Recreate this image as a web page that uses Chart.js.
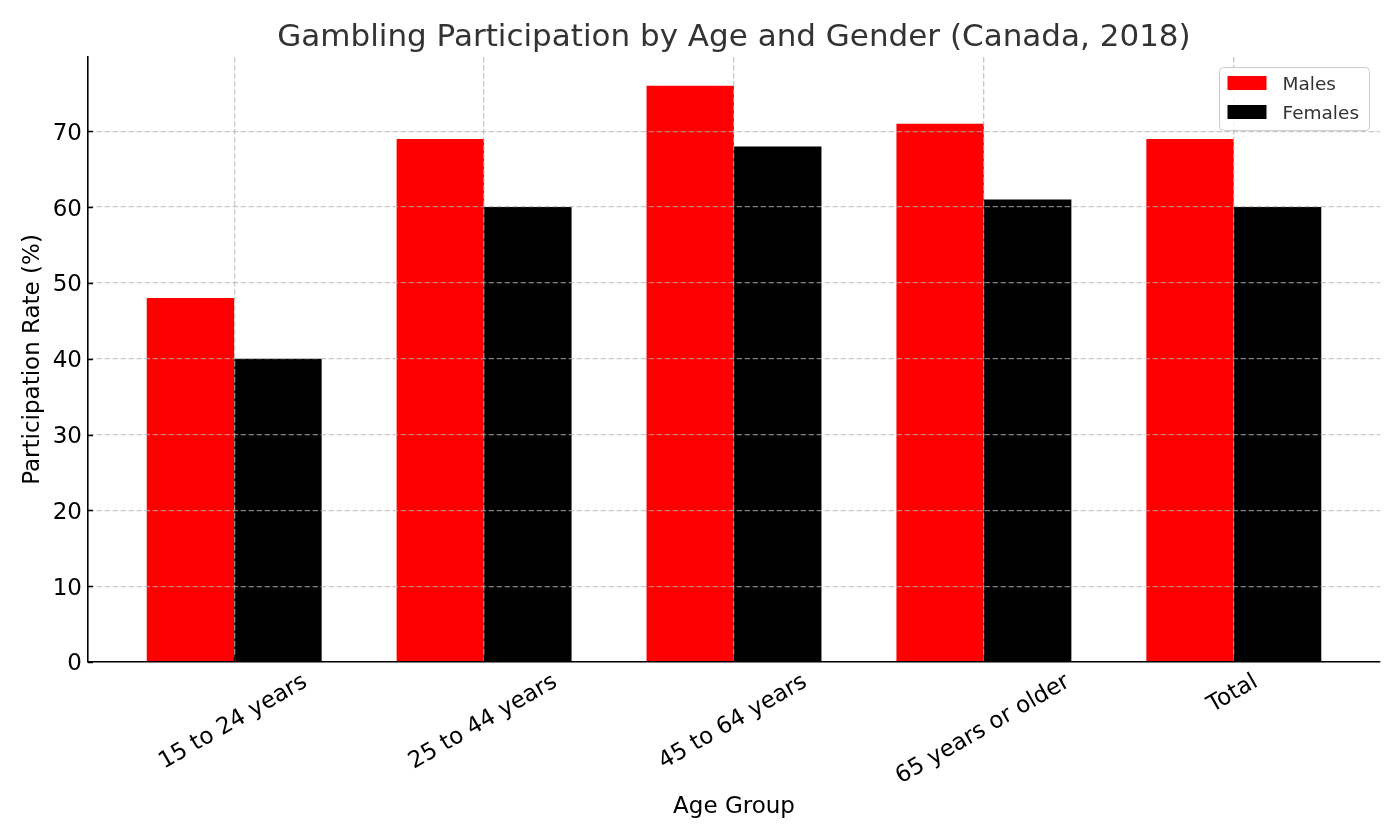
<!DOCTYPE html>
<html>
<head>
<meta charset="utf-8">
<script src="https://cdn.jsdelivr.net/npm/chart.js@4.4.1/dist/chart.umd.min.js"></script>
<style>
  html, body { margin: 0; padding: 0; background: #ffffff; }
  #wrap { width: 1400px; height: 840px; }
</style>
</head>
<body>
<div id="wrap"><canvas id="c" width="1400" height="840"></canvas></div>
<script>
const chartTitle = 'Gambling Participation by Age and Gender (Canada, 2018)';
const xAxisTitle = 'Age Group';
const yAxisTitle = 'Participation Rate (%)';
const categories = ['15 to 24 years', '25 to 44 years', '45 to 64 years', '65 years or older', 'Total'];
const seriesNames = ['Males', 'Females'];
const males = [48, 69, 76, 71, 69];
const females = [40, 60, 68, 61, 60];
const yTicks = [0, 10, 20, 30, 40, 50, 60, 70];
const colors = ['#ff0000', '#000000'];

const FONT = '"DejaVu Sans", "Liberation Sans", sans-serif';

const drawPlugin = {
  id: 'mplText',
  afterDraw(chart) {
    const { ctx, chartArea: ca, scales: { x, y } } = chart;
    ctx.save();

    // inward tick marks
    ctx.strokeStyle = '#000';
    ctx.lineWidth = 1.5;
    ctx.setLineDash([]);
    yTicks.forEach(v => {
      const py = Math.round(y.getPixelForValue(v)) + 0.5;
      ctx.beginPath(); ctx.moveTo(ca.left, py); ctx.lineTo(ca.left + 5, py); ctx.stroke();
    });
    categories.forEach((c, i) => {
      const px = Math.round(x.getPixelForValue(i)) + 0.5;
      ctx.beginPath(); ctx.moveTo(px, ca.bottom); ctx.lineTo(px, ca.bottom - 5); ctx.stroke();
    });

    // y tick labels
    const fs = 23;
    ctx.font = fs + 'px ' + FONT;
    ctx.fillStyle = '#000';
    ctx.textAlign = 'right';
    ctx.textBaseline = 'alphabetic';
    yTicks.forEach(v => {
      const py = y.getPixelForValue(v);
      ctx.fillText(String(v), ca.left - 6, py + 0.365 * fs);
    });

    // x tick labels rotated 30deg, bbox centered on tick (matplotlib-like)
    const a = 0.93 * fs, d = 0.24 * fs;
    const pad = 5;
    ctx.textAlign = 'left';
    categories.forEach((lab, i) => {
      const px = x.getPixelForValue(i);
      const w = ctx.measureText(lab).width;
      const cx = (0.866 * w + 0.5 * d - 0.5 * a) / 2;
      const minY = -0.5 * w - 0.866 * a;
      const ox = px - cx - 2;
      const oy = ca.bottom + pad - minY;
      ctx.save();
      ctx.translate(ox, oy);
      ctx.rotate(-Math.PI / 6);
      ctx.fillText(lab, 0, 0);
      ctx.restore();
    });

    // axis titles
    ctx.textAlign = 'center';
    ctx.fillText(xAxisTitle, (ca.left + ca.right) / 2, 813);
    ctx.save();
    ctx.translate(39, (ca.top + ca.bottom) / 2);
    ctx.rotate(-Math.PI / 2);
    ctx.fillText(yAxisTitle, 0, 0);
    ctx.restore();

    // title
    ctx.font = '31px ' + FONT;
    ctx.fillStyle = '#333';
    ctx.fillText(chartTitle, (ca.left + ca.right) / 2, 46);

    // legend
    const bx = ca.right - 160.5, by = ca.top + 10.5, bw = 150, bh = 63;
    ctx.beginPath();
    if (ctx.roundRect) ctx.roundRect(bx, by, bw, bh, 4); else ctx.rect(bx, by, bw, bh);
    ctx.fillStyle = 'rgba(255,255,255,0.8)';
    ctx.fill();
    ctx.strokeStyle = '#cccccc';
    ctx.lineWidth = 1;
    ctx.stroke();
    ctx.font = '18.5px ' + FONT;
    ctx.textAlign = 'left';
    chart.data.datasets.forEach((ds, i) => {
      const ry = by + 8.5 + i * 29;
      ctx.fillStyle = ds.backgroundColor;
      ctx.fillRect(bx + 8, ry, 39, 14);
      ctx.fillStyle = '#333';
      ctx.fillText(ds.label, bx + 63, ry + 14);
    });

    ctx.restore();
  }
};

const gridCommon = {
  color: 'rgba(176,176,176,0.7)',
  lineWidth: 1.3,
  drawTicks: false,
  offset: false,
  z: 1
};

new Chart(document.getElementById('c'), {
  type: 'bar',
  data: {
    datasets: [
      { label: seriesNames[0], data: males.map((v, i) => ({ x: i, y: v })), backgroundColor: colors[0], borderWidth: 0 },
      { label: seriesNames[1], data: females.map((v, i) => ({ x: i, y: v })), backgroundColor: colors[1], borderWidth: 0 }
    ]
  },
  options: {
    responsive: false,
    animation: false,
    devicePixelRatio: 1,
    layout: { padding: { left: 88, right: 20, top: 57, bottom: 178 } },
    datasets: { bar: { categoryPercentage: 0.7, barPercentage: 1.0 } },
    plugins: { legend: { display: false }, title: { display: false }, tooltip: { enabled: false } },
    scales: {
      x: {
        type: 'linear',
        min: -0.585,
        max: 4.585,
        offset: false,
        afterBuildTicks: (axis) => { axis.ticks = categories.map((c, i) => ({ value: i })); },
        ticks: { display: false },
        grid: Object.assign({}, gridCommon),
        border: { display: true, color: '#000', width: 1.6, dash: [5.5, 2.5], z: 2 }
      },
      y: {
        type: 'linear',
        min: 0,
        max: 79.8,
        afterBuildTicks: (axis) => { axis.ticks = yTicks.map(v => ({ value: v })); },
        ticks: { display: false },
        grid: Object.assign({}, gridCommon),
        border: { display: true, color: '#000', width: 1.6, dash: [5.5, 2.5], z: 2 }
      }
    }
  },
  plugins: [drawPlugin]
});
</script>
</body>
</html>
